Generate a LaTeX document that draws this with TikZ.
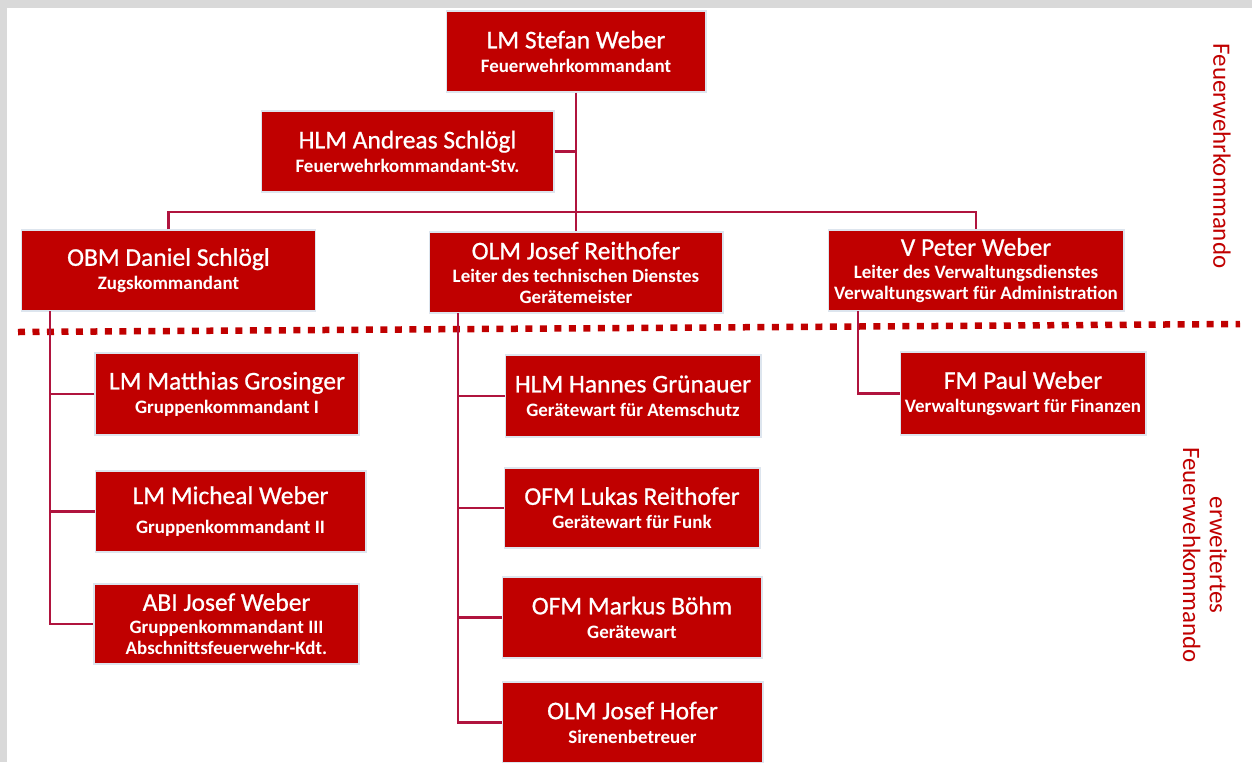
\documentclass[tikz,border=0pt]{standalone}
\usepackage{fontspec}
\setmainfont{Carlito}
\definecolor{fwred}{HTML}{C00000}
\definecolor{fwline}{HTML}{B0143E}
\definecolor{fwedge}{HTML}{DDE5EE}
\definecolor{fwgrey}{HTML}{D9D9D9}
\newcommand{\pname}[1]{{\fontsize{14.5}{16}\selectfont\mdseries\addfontfeature{FakeBold=0.8}#1}}
\newcommand{\prole}[1]{{\bfseries #1}}
\tikzset{
	person/.style={draw=fwedge, line width=0.6pt, fill=fwred, text=white, align=center,
		minimum height=1.62cm, inner sep=0pt, font=\fontsize{10.8}{11.9}\selectfont},
	branch/.style={draw=fwline, line width=1.2pt},
	bereich/.style={rotate=-90, text=fwred, align=center, font=\fontsize{14.2}{15.3}\selectfont},
	grenze/.style={draw=fwred, line width=0.13cm, dash pattern=on 0.14cm off 0.15cm},
}
\begin{document}
\begin{tikzpicture}[x=0.02cm, y=-0.02cm]
		\useasboundingbox (0,0) rectangle (1252,762);
		\fill[fwgrey] (0,0) rectangle (1252,8);
		\fill[fwgrey] (0,0) rectangle (7,762);
		
		\node[person, minimum width=5.2cm] (FK) at (576,51.5) {\pname{LM Stefan Weber}\\[1.7pt]\prole{Feuerwehrkommandant}};
		\node[person, minimum width=5.86cm] (FKS) at (407.5,151.5) {\pname{HLM Andreas Schlögl}\\[1.7pt]\prole{Feuerwehrkommandant-Stv.}};
		
		\node[person, minimum width=5.9cm] (ZK) at (168.5,270.5) {\pname{OBM Daniel Schlögl}\\[1.7pt]\prole{Zugskommandant}};
		\node[person, minimum width=5.88cm] (LTD) at (576,272.5) {\pname{OLM Josef Reithofer}\\[1.2pt]\prole{Leiter des technischen Dienstes}\\\prole{Gerätemeister}};
		\node[person, minimum width=5.92cm] (LVD) at (976,270.5) {\pname{V Peter Weber}\\[1.2pt]\prole{Leiter des Verwaltungsdienstes}\\\prole{Verwaltungswart für Administration}};
		
		\node[person, minimum width=5.28cm, minimum height=1.64cm] (GK1) at (227,394) {\pname{LM Matthias Grosinger}\\[1.7pt]\prole{Gruppenkommandant I}};
		\node[person, minimum width=5.42cm] (GK2) at (230.5,511.5) {\pname{LM Micheal Weber}\\[5pt]\prole{Gruppenkommandant II}};
		\node[person, minimum width=5.3cm, minimum height=1.6cm] (GK3) at (226.5,624) {\pname{ABI Josef Weber}\\[1.2pt]\prole{Gruppenkommandant III}\\\prole{Abschnittsfeuerwehr-Kdt.}};
		
		\node[person, minimum width=5.12cm, minimum height=1.64cm] (GW1) at (633,396) {\pname{HLM Hannes Grünauer}\\[1.7pt]\prole{Gerätewart für Atemschutz}};
		\node[person, minimum width=5.12cm, minimum height=1.6cm] (GW2) at (632,508) {\pname{OFM Lukas Reithofer}\\[1.7pt]\prole{Gerätewart für Funk}};
		\node[person, minimum width=5.2cm] (GW3) at (632,617.5) {\pname{OFM Markus Böhm}\\[1.7pt]\prole{Gerätewart}};
		\node[person, minimum width=5.22cm] (SB) at (632.5,722.5) {\pname{OLM Josef Hofer}\\[1.7pt]\prole{Sirenenbetreuer}};
		
		\node[person, minimum width=4.92cm, minimum height=1.66cm] (VW) at (1023,393.5) {\pname{FM Paul Weber}\\[1.7pt]\prole{Verwaltungswart für Finanzen}};
		
		\node[bereich] (FKlabel) at (1222,156) {Feuerwehrkommando};
		\node[bereich] (EFKlabel) at (1205,555) {erweitertes\\Feuerwehkommando};
		
		\coordinate (bus) at (576,212);
		\coordinate (ZKt) at (50,311);
		\coordinate (LTDt) at (458,313);
		\coordinate (LVDt) at (858,311);
		
		\draw[grenze] (18,332) -- (1240,324);
		
		\draw[branch] (FK.south) -- (LTD.north);
		\draw[branch] (FKS.east) -- (FKS.east -| FK.south);
		\draw[branch] (ZK.north) |- (bus) -| (LVD.north);
		
		\draw[branch] (ZKt) |- (GK3.west);
		\draw[branch] (GK1.west) -- (GK1.west -| ZKt);
		\draw[branch] (GK2.west) -- (GK2.west -| ZKt);
		
		\draw[branch] (LTDt) |- (SB.west);
		\draw[branch] (GW1.west) -- (GW1.west -| LTDt);
		\draw[branch] (GW2.west) -- (GW2.west -| LTDt);
		\draw[branch] (GW3.west) -- (GW3.west -| LTDt);
		
		\draw[branch] (LVDt) |- (VW.west);
	\end{tikzpicture}
\end{document}
